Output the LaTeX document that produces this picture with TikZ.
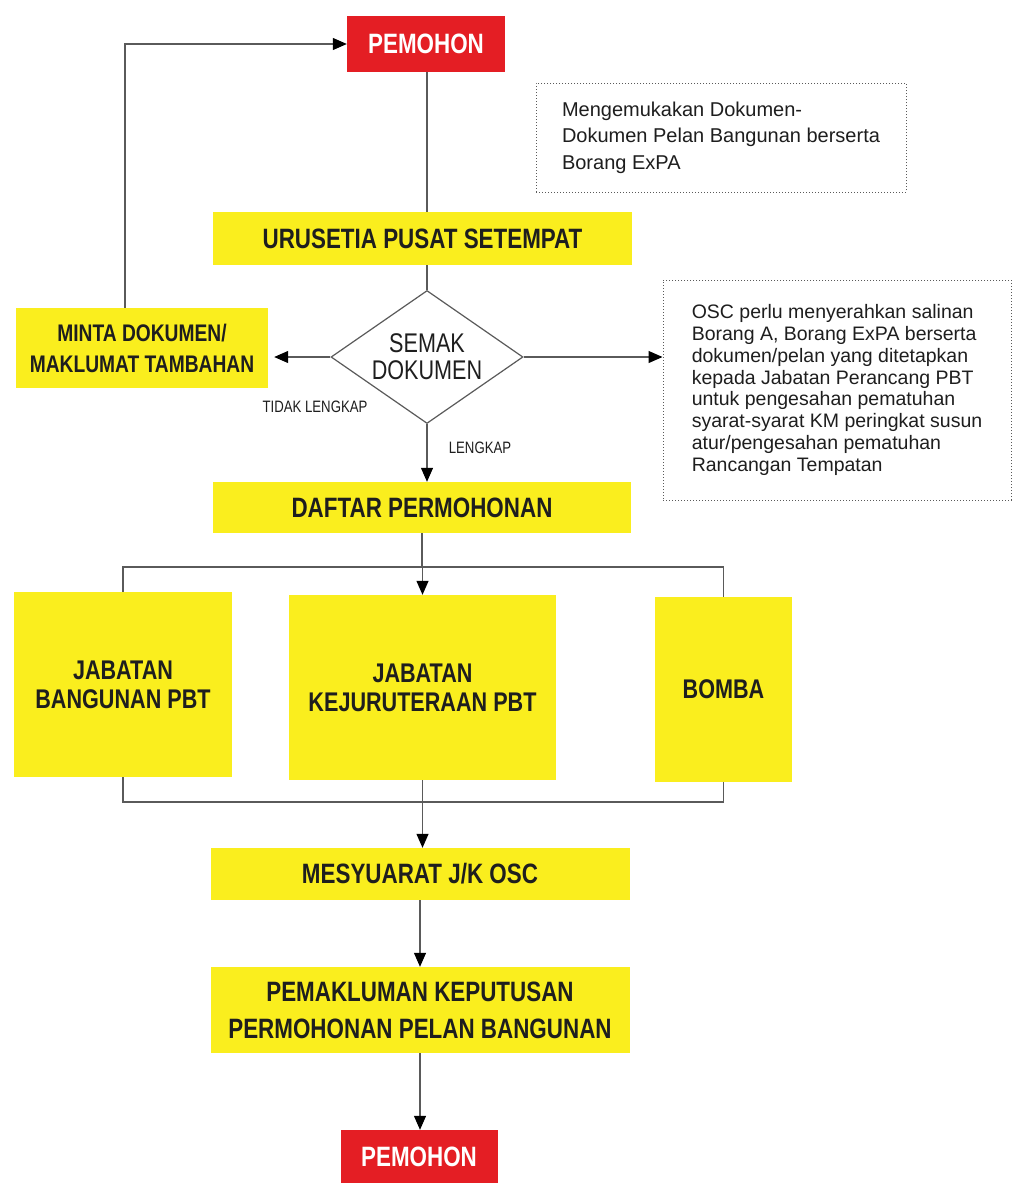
\documentclass[tikz,border=0pt]{standalone}
\usepackage{fontspec}
\setmainfont{Liberation Sans}[FakeStretch=0.8]
\newfontfamily\bodyfont{Liberation Sans}
\usetikzlibrary{shapes.geometric,arrows.meta,backgrounds}
\definecolor{yel}{RGB}{250,238,30}
\definecolor{redbox}{RGB}{228,30,36}
\definecolor{linec}{RGB}{90,90,90}
\definecolor{txt}{RGB}{30,30,30}
\begin{document}
\begin{tikzpicture}[x=1pt,y=-1pt,
  ybox/.style={fill=yel, text=txt, font=\bfseries\fontsize{28}{36}\selectfont, align=center, inner sep=0pt},
  rbox/.style={fill=redbox, text=white, font=\bfseries\fontsize{28}{34}\selectfont, inner sep=0pt},
  note/.style={draw=linec, dotted, line width=1pt, text=txt, align=left, inner sep=0pt},
  conn/.style={draw=linec, line width=1.2pt},
  arr/.style={conn, -{Triangle[length=14pt,width=12pt,color=black]}},
  lbl/.style={text=txt, font=\fontsize{16.5}{18}\selectfont, inner sep=0pt}
]
\useasboundingbox (0,0) rectangle (1014,1183);

\node[rbox, minimum width=158, minimum height=56] (pem1) at (426,44) {PEMOHON};
\node[note, minimum width=370, minimum height=109, font=\bodyfont\fontsize{20}{26.5}\selectfont] (n1) at (721,137.5)
  {Mengemukakan Dokumen-\\Dokumen Pelan Bangunan berserta\\Borang ExPA};
\node[ybox, minimum width=419, minimum height=53] (uru) at (422.5,238.5) {URUSETIA PUSAT SETEMPAT};
\node[diamond, draw=linec, fill=white, line width=1.2pt, aspect=1.44, minimum width=192, minimum height=133,
  inner sep=0pt, text=txt, font=\fontsize{27}{27}\selectfont, align=center] (sd) at (427,357) {SEMAK\\DOKUMEN};
\node[ybox, minimum width=252, minimum height=80, font=\bfseries\fontsize{24}{31}\selectfont] (minta) at (142,348)
  {MINTA DOKUMEN/\\MAKLUMAT TAMBAHAN};
\node[note, minimum width=348, minimum height=220, font=\bodyfont\fontsize{19.5}{21.8}\selectfont] (n2) at (837,390)
  {OSC perlu menyerahkan salinan\\Borang A, Borang ExPA berserta\\dokumen/pelan yang ditetapkan\\kepada Jabatan Perancang PBT\\untuk pengesahan pematuhan\\syarat-syarat KM peringkat susun\\atur/pengesahan pematuhan\\Rancangan Tempatan};
\node[lbl] (tl) at (315,407) {TIDAK LENGKAP};
\node[lbl] (lk) at (480,448) {LENGKAP};
\node[ybox, minimum width=418, minimum height=51] (daftar) at (422,507.5) {DAFTAR PERMOHONAN};
\node[ybox, minimum width=218, minimum height=185, font=\bfseries\fontsize{27}{29}\selectfont] (jb) at (123,684.5)
  {JABATAN\\BANGUNAN PBT};
\node[ybox, minimum width=267, minimum height=185, font=\bfseries\fontsize{27}{29}\selectfont] (jk) at (422.5,687.5)
  {JABATAN\\KEJURUTERAAN PBT};
\node[ybox, minimum width=137, minimum height=185, font=\bfseries\fontsize{27}{29}\selectfont] (bomba) at (723.5,689.5) {BOMBA};
\node[ybox, minimum width=419, minimum height=52] (mesy) at (420,874) {MESYUARAT J/K OSC};
\node[ybox, minimum width=419, minimum height=86, font=\bfseries\fontsize{28}{37}\selectfont] (pemak) at (420,1010)
  {PEMAKLUMAN KEPUTUSAN\\PERMOHONAN PELAN BANGUNAN};
\node[rbox, minimum width=157, minimum height=54] (pem2) at (419,1157) {PEMOHON};

\coordinate (barT) at (424,567);
\coordinate (barB) at (424,802);

\begin{scope}[on background layer]
  \fill[white] (0,0) rectangle (1014,1183);
  \draw[conn] (pem1.south -| sd.north) -- (sd.north);
  \draw[arr] ([xshift=-17pt]minta.north) |- (pem1.west);
  \draw[arr, shorten >=6pt] (sd.west) -- (sd.west -| minta.east);
  \draw[arr] (sd.east) -- (sd.east -| n2.west);
  \draw[arr] (sd.south) -- (sd.south |- daftar.north);
  \draw[conn] (daftar.south) -- (daftar.south |- barT);
  \draw[conn] (jb.north) |- (barT) -| (bomba.north);
  \draw[arr] (barT -| jk.north) -- (jk.north);
  \draw[conn] (jb.south) |- (barB) -| (bomba.south);
  \draw[arr] (jk.south) -- (jk.south |- mesy.north);
  \draw[arr] (mesy.south) -- (pemak.north);
  \draw[arr] (pemak.south) -- (pemak.south |- pem2.north);
\end{scope}
\end{tikzpicture}
\end{document}
